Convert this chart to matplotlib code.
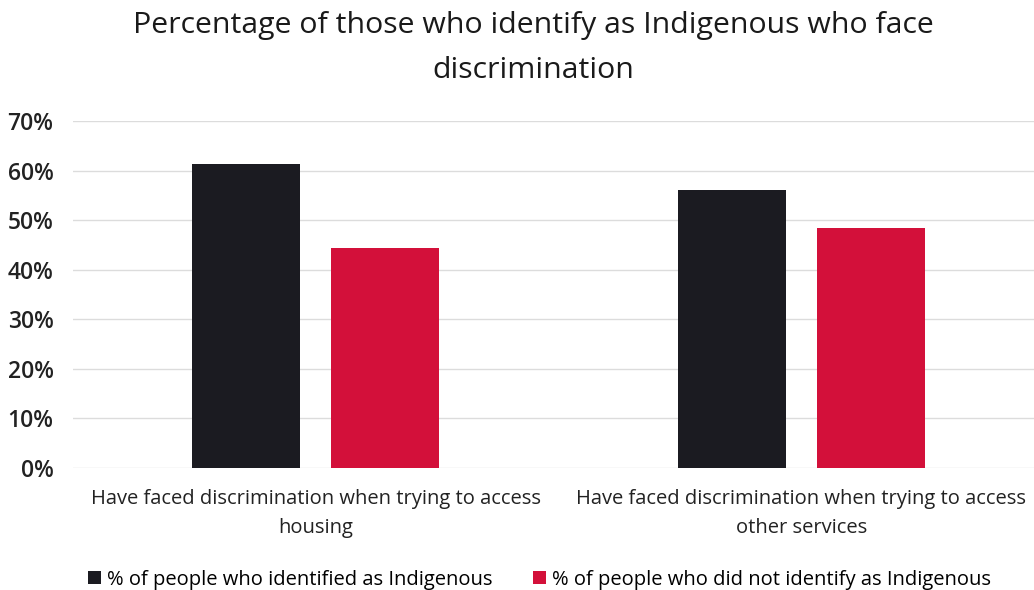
import matplotlib
matplotlib.use("Agg")
import matplotlib.pyplot as plt
import numpy as np
from matplotlib.ticker import PercentFormatter

plt.rcParams['font.family'] = ['Open Sans', 'DejaVu Sans']

categories = ["Have faced discrimination when trying to access\nhousing",
              "Have faced discrimination when trying to access\nother services"]
series_names = ["% of people who identified as Indigenous",
                "% of people who did not identify as Indigenous"]
indigenous = [61.3, 56.0]
not_indigenous = [44.4, 48.4]
colors = ["#1b1b21", "#d3103a"]

W, H = 1034, 590
fig = plt.figure(figsize=(W / 100, H / 100), dpi=100)
ax = fig.add_axes([73 / W, 1 - 468 / H, 971 / W, 347 / H])

x = np.arange(len(categories))
w = 0.2225
gap = 0.064
ax.bar(x - (w + gap) / 2, indigenous, w, color=colors[0], label=series_names[0], zorder=3)
ax.bar(x + (w + gap) / 2, not_indigenous, w, color=colors[1], label=series_names[1], zorder=3)

ax.set_xlim(-0.5, 1.5)
ax.set_ylim(0, 70)
ax.set_yticks(np.arange(0, 71, 10))
ax.yaxis.set_major_formatter(PercentFormatter(decimals=0))
ax.set_xticks(x)
ax.set_xticklabels(categories, fontsize=14.5, color="#222222", linespacing=1.6)
ax.tick_params(axis='y', labelsize=16.5, length=0, pad=14, labelcolor="#222222")
for lbl in ax.get_yticklabels():
    lbl.set_fontweight("semibold")
ax.tick_params(axis='x', length=0, pad=15)
ax.grid(axis='y', color="#dcdcdc", linewidth=1, zorder=0)
for s in ax.spines.values():
    s.set_visible(False)

fig.suptitle("Percentage of those who identify as Indigenous who face\ndiscrimination",
             fontsize=21.8, x=0.516, y=0.982, color="#1a1a1a", linespacing=1.75)

fig.legend(loc="lower center", bbox_to_anchor=(0.522, -0.03), ncol=2, frameon=False,
           fontsize=14.5, handlelength=0.65, handleheight=0.65, handletextpad=0.3,
           columnspacing=2.0)

fig.savefig("out.png", dpi=100)
